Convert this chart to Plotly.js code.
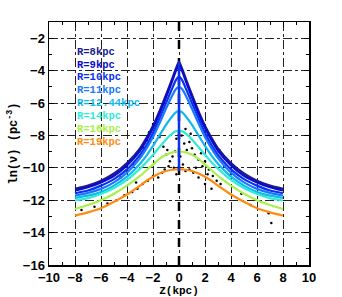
<!DOCTYPE html>
<html><head><meta charset="utf-8">
<script src="https://cdn.plot.ly/plotly-3.0.1.min.js"></script>
<style>html,body{margin:0;padding:0;background:#fff}#chart{width:342px;height:297px}</style>
</head><body><div id="chart"></div>
<script>
const zGrid = [-8,-7,-6,-5,-4,-3,-2.5,-2,-1.5,-1,-0.5,-0.25,0,0.25,0.5,1,1.5,2,2.5,3,4,5,6,7,8];
const labels = ["R=8kpc","R=9kpc","R=10kpc","R=11kpc","R=12.44kpc","R=14kpc","R=16kpc","R=19kpc"];
const colors = ["#1c1c8a","#0a0ad0","#0a30f0","#1a78ff","#10b8f0","#30ecd4","#a8f04c","#ff8c10"];
const labelY = [-2.85,-3.63,-4.4,-5.2,-6.0,-6.8,-7.6,-8.4];
const r8  = [-11.3,-11.1,-10.8,-10.35,-9.7,-8.8,-8.15,-7.4,-6.5,-5.5,-4.45,-3.9,-3.45,-3.9,-4.45,-5.5,-6.5,-7.4,-8.15,-8.8,-9.7,-10.35,-10.8,-11.1,-11.3];
const r9  = [-11.4,-11.2,-10.9,-10.5,-9.85,-8.95,-8.3,-7.55,-6.65,-5.65,-4.6,-4.05,-3.65,-4.05,-4.6,-5.65,-6.65,-7.55,-8.3,-8.95,-9.85,-10.5,-10.9,-11.2,-11.4];
const r10 = [-11.57,-11.4,-11.1,-10.7,-10.1,-9.2,-8.6,-7.85,-6.95,-6.0,-5.05,-4.6,-4.35,-4.6,-5.05,-6.0,-6.95,-7.85,-8.6,-9.2,-10.1,-10.7,-11.1,-11.4,-11.57];
const r11 = [-11.71,-11.55,-11.3,-10.9,-10.3,-9.4,-8.8,-8.1,-7.25,-6.35,-5.5,-5.15,-5.0,-5.15,-5.5,-6.35,-7.25,-8.1,-8.8,-9.4,-10.3,-10.9,-11.3,-11.55,-11.71];
const r12 = [-11.86,-11.72,-11.5,-11.1,-10.55,-9.75,-9.25,-8.65,-8.0,-7.35,-6.8,-6.58,-6.5,-6.58,-6.8,-7.35,-8.0,-8.65,-9.25,-9.75,-10.55,-11.1,-11.5,-11.72,-11.86];
const r14 = [-12.02,-11.87,-11.62,-11.25,-10.75,-10.05,-9.65,-9.2,-8.72,-8.25,-7.88,-7.75,-7.7,-7.75,-7.88,-8.25,-8.72,-9.2,-9.65,-10.05,-10.75,-11.25,-11.62,-11.87,-12.02];
const r16 = [-12.54,-12.3,-12.0,-11.6,-11.1,-10.5,-10.15,-9.8,-9.45,-9.2,-9.05,-9.01,-9.0,-9.01,-9.05,-9.2,-9.45,-9.8,-10.15,-10.5,-11.1,-11.6,-12.0,-12.3,-12.54];
const r19 = [-12.95,-12.75,-12.5,-12.1,-11.65,-11.1,-10.8,-10.55,-10.35,-10.2,-10.12,-10.1,-10.1,-10.1,-10.12,-10.2,-10.35,-10.55,-10.8,-11.1,-11.65,-12.1,-12.5,-12.75,-12.95];
const series = [r8,r9,r10,r11,r12,r14,r16,r19];
const dotZ = [-0.2,-0.3,-0.5,-0.7,-0.4,-0.2,-0.8,-1.0,-1.2,-1.5,-1.8,-2.0,-2.3,-2.5,-1.3,-1.6,-2.0,-2.4,-2.8,-3.2,-3.6,-4.2,-4.8,-3.0,-3.5,-4.0,-4.5,-2.7,-5.5,-6.5,-7.5,-1.1,-1.9,-3.3,-0.9,
  0.2,0.4,0.6,0.8,1.0,1.2,1.5,1.8,2.0,2.3,2.6,2.9,3.2,0.3,0.5,0.8,1.1,1.5,2.0,2.5,3.1,3.5,4.0,4.8,5.5,6.9,7.1,0.5,0.9,1.3,1.7,2.2,0.1];
const dotV = [-8.2,-9.0,-9.3,-9.6,-10.0,-10.4,-9.9,-9.2,-8.7,-8.1,-7.6,-7.3,-7.8,-8.3,-10.3,-10.6,-10.5,-10.8,-11.0,-11.3,-11.5,-11.7,-12.0,-9.3,-9.8,-10.2,-10.6,-8.8,-12.2,-12.4,-12.6,-10.1,-9.7,-10.9,-8.9,
  -8.0,-8.5,-8.9,-8.4,-8.8,-9.2,-9.5,-9.9,-9.6,-10.1,-10.5,-10.8,-11.0,-9.8,-10.2,-10.1,-10.3,-10.6,-11.0,-11.3,-8.9,-9.9,-10.4,-11.6,-12.3,-12.8,-13.4,-7.6,-7.9,-10.0,-9.1,-10.4,-9.3];
const vlineY = [-16,-1];
const blueY = [-3.45,-10.2];

const traces = [];
traces.push({x:[0,0], y:vlineY, mode:'lines', line:{color:'#000', width:2.5, dash:'dash'}, hoverinfo:'skip'});
traces.push({x:dotZ, y:dotV, mode:'markers', marker:{color:'#000', size:2.5}, hoverinfo:'skip'});
series.forEach((s,i)=>{
  traces.push({x:zGrid, y:s, mode:'lines', line:{color:colors[i], width:2.2, shape:'spline', smoothing:0.6}, name:labels[i]});
});
traces.push({x:[0,0], y:blueY, mode:'lines', line:{color:'#0a30f0', width:2.5}, hoverinfo:'skip'});

const mono = 'Liberation Mono, Courier New, monospace';
const annotations = labels.map((t,i)=>({x:-8, y:labelY[i], xref:'x', yref:'y', xanchor:'left', yanchor:'middle', text:t, showarrow:false,
  font:{family:mono, size:10.5, color:colors[i], weight:700}}));

const axisCommon = {showline:true, linecolor:'#000', linewidth:1.5, mirror:'ticks', ticks:'inside', ticklen:5, tickcolor:'#000',
  showgrid:true, gridcolor:'#222', griddash:'dashdot', gridwidth:1, zeroline:false,
  tickfont:{family:'Liberation Sans, Arial, sans-serif', size:13, color:'#000', weight:700},
  minor:{ticks:'inside', ticklen:3, tickcolor:'#000', showgrid:false}};

const layout = {
  width:342, height:297, margin:{l:49, r:33, t:22, b:32},
  paper_bgcolor:'#fff', plot_bgcolor:'#fff', showlegend:false,
  xaxis:Object.assign({}, axisCommon, {range:[-10,10], dtick:2, tick0:-10, minor:Object.assign({}, axisCommon.minor, {dtick:1}),
    title:{text:'Z(kpc)', standoff:5, font:{family:mono, size:11, color:'#000', weight:700}}}),
  yaxis:Object.assign({}, axisCommon, {range:[-16,-1], dtick:2, tick0:-16, minor:Object.assign({}, axisCommon.minor, {dtick:1}),
    title:{text:'ln(ν) (pc<sup>-3</sup>)', standoff:2, font:{family:mono, size:12, color:'#000', weight:700}}}),
  annotations:annotations
};
Plotly.newPlot('chart', traces, layout, {staticPlot:true, displayModeBar:false});
</script></body></html>
